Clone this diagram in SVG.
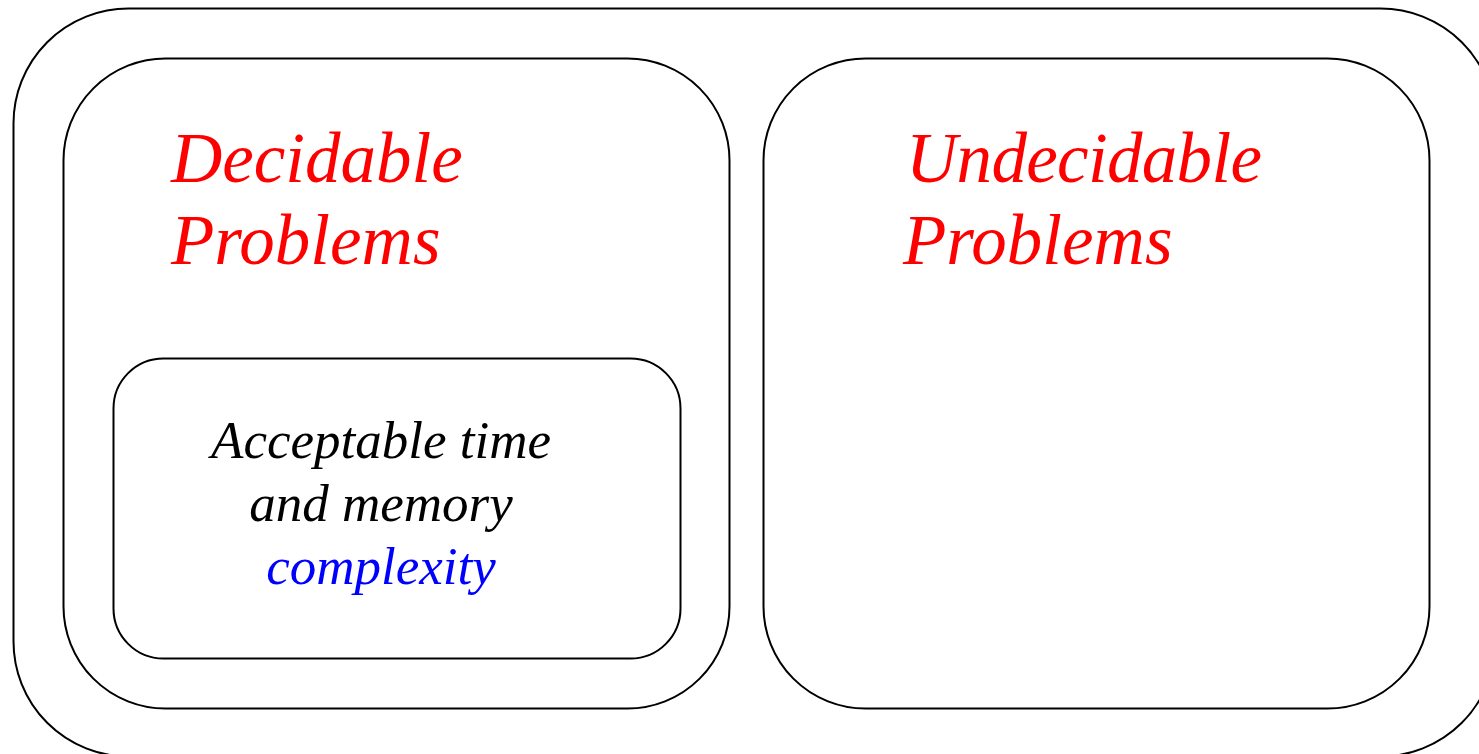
<svg xmlns="http://www.w3.org/2000/svg" width="1479" height="754" viewBox="0 0 1479 754">
  <style>
    .box { fill: none; stroke: #000; stroke-width: 2; }
    .title { font-family: "Liberation Serif", "Times New Roman", serif; font-style: italic; font-size: 71px; fill: #ff0000; }
    .body { font-family: "Liberation Serif", "Times New Roman", serif; font-style: italic; font-size: 53px; text-anchor: middle; }
  </style>
  <rect width="1479" height="754" fill="#fff"/>
  <g id="all-problems">
    <rect class="box" x="13.5" y="8.5" width="1482" height="748" rx="115" ry="115"/>
  </g>
  <g id="decidable">
    <rect class="box" x="63.5" y="58.5" width="666" height="650" rx="102" ry="102"/>
    <text class="title" x="171" y="182">Decidable</text>
    <text class="title" x="171" y="264">Problems</text>
  </g>
  <g id="acceptable">
    <rect class="box" x="113.5" y="358.5" width="567" height="300" rx="50" ry="50"/>
    <text class="body" x="381" y="458" fill="#000">Acceptable time</text>
    <text class="body" x="381" y="521" fill="#000">and memory</text>
    <text class="body" x="381" y="584" fill="#0000ff">complexity</text>
  </g>
  <g id="undecidable">
    <rect class="box" x="763.5" y="58.5" width="666" height="650" rx="102" ry="102"/>
    <text class="title" x="906" y="182" textLength="356">Undecidable</text>
    <text class="title" x="903" y="264">Problems</text>
  </g>
  <g id="connectors"/>
</svg>
